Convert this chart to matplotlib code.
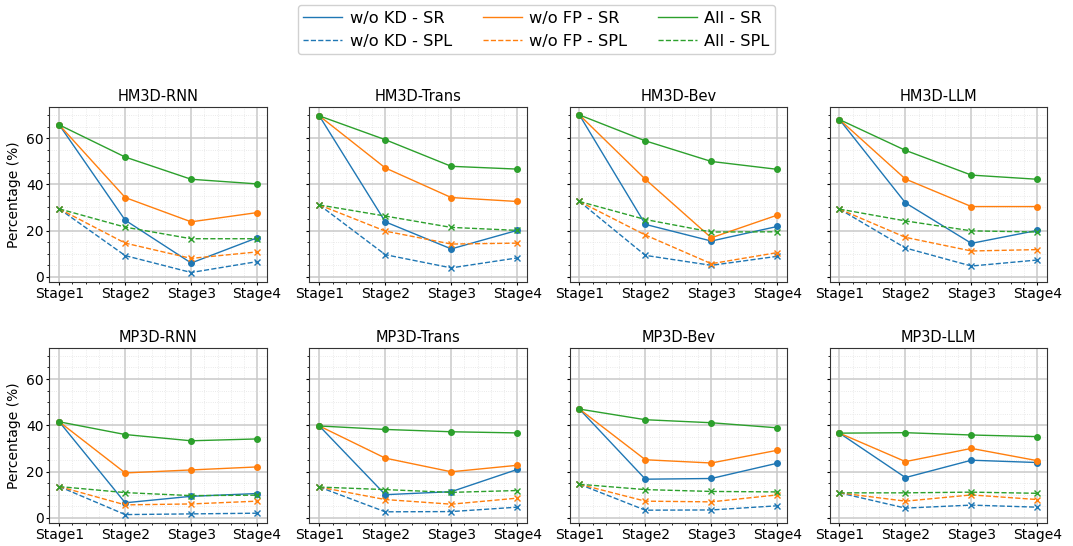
import matplotlib.pyplot as plt
from matplotlib.lines import Line2D
import numpy as np

# Data (percent)
stages = ['Stage1', 'Stage2', 'Stage3', 'Stage4']
panel_names = ['HM3D-RNN', 'HM3D-Trans', 'HM3D-Bev', 'HM3D-LLM',
               'MP3D-RNN', 'MP3D-Trans', 'MP3D-Bev', 'MP3D-LLM']

kd_sr = [
    [65.7, 24.5, 6.0, 16.9],
    [69.6, 23.8, 12.1, 20.1],
    [70.0, 22.7, 15.5, 21.8],
    [68.0, 32.0, 14.5, 20.1],
    [41.5, 6.5, 9.3, 10.5],
    [39.7, 10.0, 11.3, 20.9],
    [47.0, 16.7, 17.0, 23.6],
    [36.6, 17.4, 24.9, 23.9],
]
kd_spl = [
    [29.4, 9.2, 1.9, 6.6],
    [31.1, 9.6, 3.9, 8.2],
    [32.6, 9.3, 5.0, 8.9],
    [29.3, 12.5, 4.7, 7.3],
    [13.5, 1.4, 1.7, 2.0],
    [13.3, 2.6, 2.7, 4.6],
    [14.5, 3.3, 3.4, 5.2],
    [10.8, 4.2, 5.5, 4.6],
]
fp_sr = [
    [65.7, 34.3, 23.8, 27.8],
    [69.6, 47.1, 34.3, 32.6],
    [70.0, 42.2, 16.9, 26.7],
    [68.0, 42.3, 30.4, 30.4],
    [41.5, 19.4, 20.7, 22.0],
    [39.7, 25.8, 19.9, 22.7],
    [47.0, 25.1, 23.7, 29.2],
    [36.6, 24.3, 30.0, 24.7],
]
fp_spl = [
    [29.4, 14.6, 8.0, 10.8],
    [31.1, 19.8, 14.2, 14.6],
    [32.6, 18.1, 5.7, 10.5],
    [29.3, 17.1, 11.2, 11.8],
    [13.5, 5.6, 6.0, 7.2],
    [13.3, 7.9, 5.9, 8.5],
    [14.5, 7.2, 6.9, 9.9],
    [10.8, 7.2, 9.9, 7.9],
]
all_sr = [
    [65.7, 51.8, 42.2, 40.2],
    [69.6, 59.3, 47.8, 46.6],
    [70.0, 58.8, 49.9, 46.5],
    [68.0, 54.7, 44.0, 42.2],
    [41.5, 36.0, 33.3, 34.1],
    [39.7, 38.2, 37.2, 36.7],
    [47.0, 42.4, 41.1, 38.9],
    [36.6, 36.8, 35.8, 35.1],
]
all_spl = [
    [29.4, 21.5, 16.5, 16.5],
    [31.1, 26.3, 21.4, 20.1],
    [32.6, 24.8, 19.4, 19.5],
    [29.3, 24.2, 19.9, 19.4],
    [13.5, 10.9, 9.6, 9.8],
    [13.3, 12.2, 11.0, 11.8],
    [14.5, 12.2, 11.4, 11.2],
    [10.8, 10.8, 11.1, 10.6],
]

series = [
    ('w/o KD', '#1f77b4', kd_sr, kd_spl),
    ('w/o FP', '#ff7f0e', fp_sr, fp_spl),
    ('All', '#2ca02c', all_sr, all_spl),
]

plt.rcParams['font.size'] = 10

fig, axes = plt.subplots(2, 4, figsize=(10.73, 5.46), dpi=100, sharey=True)
fig.subplots_adjust(left=0.046, right=0.976, bottom=0.043, top=0.804,
                    wspace=0.195, hspace=0.38)

x = np.arange(len(stages))
for i, ax in enumerate(axes.flat):
    for name, color, sr, spl in series:
        ax.plot(x, sr[i], '-o', color=color, linewidth=1.0, markersize=4)
        ax.plot(x, spl[i], '--x', color=color, linewidth=1.0, markersize=4)
    ax.set_title(panel_names[i], fontsize=10.5, pad=4)
    ax.set_xticks(x)
    ax.set_xticklabels(stages)
    ax.minorticks_on()
    ax.grid(which='major', color='#c8c8c8', linewidth=1.2, alpha=0.9)
    ax.grid(which='minor', color='#dddddd', linestyle=':', linewidth=0.6, alpha=0.8)
    ax.tick_params(which='major', length=2.5, pad=1.5)
    ax.tick_params(which='minor', length=1.5)
    for sp in ax.spines.values():
        sp.set_color('#333333')
    if i % 4 == 0:
        ax.set_ylabel('Percentage (%)', fontsize=10)

axes[0, 0].set_yticks([0, 20, 40, 60])

# legend: line-only handles, column-major order
legend_handles = []
for name, color, _, _ in series:
    legend_handles.append(Line2D([], [], color=color, linestyle='-', linewidth=1.0,
                                label=f'{name} - SR'))
    legend_handles.append(Line2D([], [], color=color, linestyle='--', linewidth=1.0,
                                label=f'{name} - SPL'))
fig.legend(handles=legend_handles, loc='upper center', ncol=3,
           bbox_to_anchor=(0.5, 1.0), fontsize=11.7, columnspacing=1.9,
           handlelength=2.4, handletextpad=0.45, borderpad=0.35,
           framealpha=0.9, borderaxespad=0.3)

fig.savefig('out.png', dpi=100)
